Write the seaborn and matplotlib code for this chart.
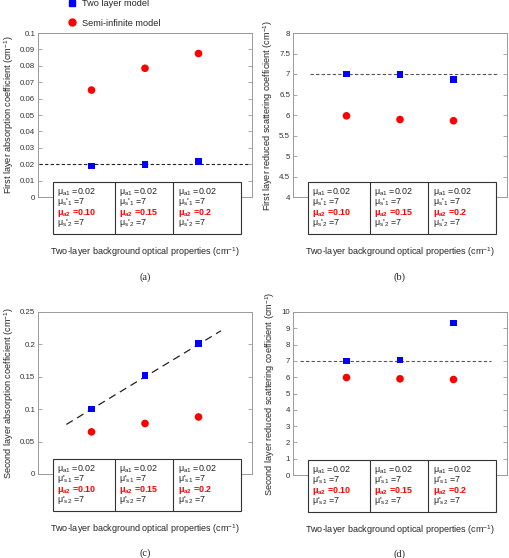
import numpy as np
import pandas as pd
import matplotlib
matplotlib.use('Agg')
import matplotlib.pyplot as plt
import seaborn as sns
from matplotlib.patches import Rectangle
from matplotlib.lines import Line2D

# three two-layer background cases
cases = [1, 2, 3]
mua2_true = [0.10, 0.15, 0.20]
mua2_labels = ['0.10', '0.15', '0.2']
mua1_true = 0.02
mus1_true = 7
mus2_true = 7

# values
a_two = [0.019, 0.0197, 0.0215]
a_semi = [0.0652, 0.0785, 0.0875]
b_two = [7.0, 6.99, 6.86]
b_semi = [5.98, 5.89, 5.86]
c_two = [0.1003, 0.1517, 0.2015]
c_semi = [0.065, 0.078, 0.088]
d_two = [7.0, 7.05, 9.32]
d_semi = [5.98, 5.9, 5.86]

ylabels = ['First layer absorption coefficient (cm$^{-1}$)',
           'First layer reduced scattering coefficient (cm$^{-1}$)',
           'Second layer absorption coefficient (cm$^{-1}$)',
           'Second layer reduced scattering coefficient (cm$^{-1}$)']
panel_tags = ['(a)', '(b)', '(c)', '(d)']
ylims = [(0, 0.1), (4, 8), (0, 0.25), (0, 10)]
ysteps = [0.01, 0.5, 0.05, 1]

sns.set_style("white")
plt.rcParams['font.family'] = ['Liberation Sans', 'DejaVu Sans']
plt.rcParams['mathtext.fontset'] = 'custom'
plt.rcParams['mathtext.rm'] = 'Liberation Sans'
plt.rcParams['mathtext.default'] = 'regular'

rows = []
for p, (two, semi) in enumerate([(a_two, a_semi), (b_two, b_semi), (c_two, c_semi), (d_two, d_semi)]):
    for i, c in enumerate(cases):
        rows.append((p, c, 'Two layer model', two[i]))
        rows.append((p, c, 'Semi-infinite model', semi[i]))
df = pd.DataFrame(rows, columns=['panel', 'case', 'model', 'value'])

W, H = 510, 558
fig = plt.figure(figsize=(W / 100, H / 100), dpi=100)

# axes boxes in pixels: left, right, top, bottom
boxes = [(38, 252, 33, 197), (293, 507, 33, 197), (38, 252, 312, 474), (293, 507, 312, 475)]
axes = []
for (l, r, t, b) in boxes:
    axes.append(fig.add_axes([l / W, 1 - b / H, (r - l) / W, (b - t) / H]))

edge = '#9a9a9a'
line_spans = [(0.02, 3.95), (0.31, 3.83), (0.53, 3.42), (0.13, 3.7)]
for p, ax in enumerate(axes):
    l, r, t, b = boxes[p]
    hpx = b - t
    sub = df[df.panel == p]
    sns.scatterplot(data=sub[sub.model == 'Semi-infinite model'], x='case', y='value',
                    color='#ff0000', marker='o', s=30, edgecolor='none', ax=ax, zorder=4)
    sns.scatterplot(data=sub[sub.model == 'Two layer model'], x='case', y='value',
                    color='#0000ff', marker='s', s=22, edgecolor='none', ax=ax, zorder=4)

    # reference (true value) lines
    x0, x1 = line_spans[p]
    xs = np.array([x0, x1])
    if p == 0:
        ax.plot(xs, [mua1_true] * 2, ls=(0, (3, 2)), color='#222222', lw=0.8)
    elif p == 2:
        k, m = np.polyfit(cases, mua2_true, 1)
        ax.plot(xs, k * xs + m, ls=(0, (6, 4)), color='#222222', lw=0.9)
    else:
        val = mus1_true if p == 1 else mus2_true
        ax.plot(xs, [val] * 2, ls=(0, (3, 2)), color='#555555', lw=0.8)

    lo, hi = ylims[p]
    ax.set_xlim(0, 4)
    ax.set_ylim(lo, hi)
    ticks = np.round(np.arange(lo, hi + ysteps[p] / 2, ysteps[p]), 4)
    ax.set_yticks(ticks)
    ax.set_yticklabels(['%g' % t for t in ticks])
    ax.set_xticks([])
    ax.tick_params(axis='y', direction='in', length=3, width=0.6, color=edge,
                   labelsize=5.7, labelcolor='#333333', pad=2, right=True, left=True)
    for s in ax.spines.values():
        s.set_color(edge)
        s.set_linewidth(0.7)
    ax.set_xlabel('Two-layer background optical properties (cm$^{-1}$)', fontsize=6.5, labelpad=35)
    ax.set_ylabel(ylabels[p], fontsize=6.6, labelpad=3)
    ax.text(0.5, -(79 if p >= 2 else 80) / hpx, panel_tags[p], transform=ax.transAxes,
            ha='center', va='center', fontsize=7.5, family='Liberation Serif')

    # parameter table below the points (pixel offsets from the axes bottom)
    tl, tr = 0.07, 0.95
    tt, tb = 15 / hpx, -37 / hpx
    ax.add_patch(Rectangle((tl, tb), tr - tl, tt - tb, transform=ax.transAxes, clip_on=False,
                           facecolor='white', edgecolor='#333333', lw=0.8, zorder=5))
    divs = [tl, 0.36, 0.633, tr]
    for d in divs[1:-1]:
        ax.plot([d, d], [tb, tt], transform=ax.transAxes, clip_on=False, color='#333333',
                lw=0.8, zorder=6)
    for j in range(3):
        if p < 2:
            lines = ['μ$_{a1}$ =%g' % mua1_true, "μ$_{s}$'$_{1}$ =%g" % mus1_true,
                     'μ$_{a2}$ =' + mua2_labels[j], "μ$_{s}$'$_{2}$ =%g" % mus2_true]
        else:
            lines = ['μ$_{a1}$ =%g' % mua1_true, "μ'$_{s1}$ =%g" % mus1_true,
                     'μ$_{a2}$ =' + mua2_labels[j], "μ'$_{s2}$ =%g" % mus2_true]
        for k, txt in enumerate(lines):
            red = (k == 2)
            ax.text(divs[j] + 0.02, (15 - 9.7 - k * 10.5) / hpx, txt, transform=ax.transAxes,
                    ha='left', va='center', fontsize=6.4, zorder=7,
                    color='#ff0000' if red else '#222222',
                    fontweight='bold' if red else 'normal')

handles = [Line2D([], [], ls='none', marker='s', color='#0000ff', markersize=4.3),
           Line2D([], [], ls='none', marker='o', color='#ff0000', markersize=5)]
fig.legend(handles, ['Two layer model', 'Semi-infinite model'], loc='upper left',
           bbox_to_anchor=(63 / W, 1.01), frameon=False, fontsize=6.6, borderpad=0,
           handlelength=1.0, handletextpad=0.6, labelspacing=1.15)

fig.savefig('out.png', dpi=100)
